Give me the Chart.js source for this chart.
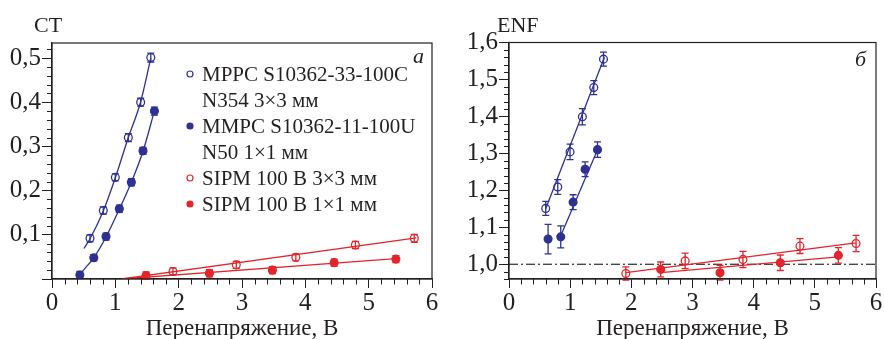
<!DOCTYPE html>
<html><head><meta charset="utf-8">
<script src="https://cdn.jsdelivr.net/npm/chart.js@4.4.1/dist/chart.umd.min.js"></script>
<style>
html,body{margin:0;padding:0;background:#fff;}
#wrap{position:relative;width:884px;height:339px;overflow:hidden;}
.pane{position:absolute;top:0;width:442px;height:339px;}
</style></head><body>
<div id="wrap">
<div class="pane" style="left:0"><canvas id="cA" width="442" height="339"></canvas></div>
<div class="pane" style="left:442px"><canvas id="cB" width="442" height="339"></canvas></div>
</div>
<script>
// ---------- data ----------
const seriesNames = [
  ['MPPC S10362-33-100C', 'N354 3×3 мм'],
  ['MMPC S10362-11-100U', 'N50 1×1 мм'],
  ['SIPM 100 В 3×3 мм'],
  ['SIPM 100 В 1×1 мм']
];
const xTitle = 'Перенапряжение, В';
const xTickValues = [0, 1, 2, 3, 4, 5, 6];
const xTickLabels = ['0', '1', '2', '3', '4', '5', '6'];
const ctTickValues = [0, 0.1, 0.2, 0.3, 0.4, 0.5];
const ctTickLabels = ['', '0,1', '0,2', '0,3', '0,4', '0,5'];
const enfTickValues = [1.0, 1.1, 1.2, 1.3, 1.4, 1.5, 1.6];
const enfTickLabels = ['1,0', '1,1', '1,2', '1,3', '1,4', '1,5', '1,6'];

// panel а : CT
const mppc33X = [0.60, 0.81, 1.00, 1.205, 1.40, 1.56];
const mppc33CT = [0.092, 0.155, 0.230, 0.320, 0.400, 0.501];
const mppc33CTErr = [0.008, 0.008, 0.008, 0.009, 0.009, 0.010];
const mppc11X = [0.44, 0.66, 0.853, 1.063, 1.253, 1.437, 1.617];
const mppc11CT = [0.009, 0.048, 0.096, 0.159, 0.219, 0.290, 0.380];
const mppc11CTErr = [0.008, 0.007, 0.008, 0.008, 0.008, 0.008, 0.009];
const sipm3X = [1.91, 2.91, 3.85, 4.79, 5.72];
const sipm3CT = [0.017, 0.032, 0.049, 0.077, 0.092];
const sipm3CTErr = [0.008, 0.008, 0.008, 0.008, 0.009];
const sipm1X = [1.485, 2.485, 3.48, 4.455, 5.43];
const sipm1CT = [0.008, 0.013, 0.020, 0.037, 0.045];
const sipm1CTErr = [0.008, 0.008, 0.008, 0.008, 0.008];
// fitted curves
const mppc33CTFitX = [0.505, 0.60, 0.81, 1.00, 1.20, 1.40, 1.56];
const mppc33CTFitY = [0.069, 0.091, 0.154, 0.229, 0.318, 0.401, 0.500];
const mppc11CTFitX = [0.415, 0.44, 0.66, 0.853, 1.063, 1.253, 1.437, 1.62];
const mppc11CTFitY = [0.002, 0.009, 0.048, 0.095, 0.158, 0.219, 0.289, 0.382];
const sipm3CTFitX = [1.10, 5.75];
const sipm3CTFitY = [0.000, 0.093];
const sipm1CTFitX = [1.10, 5.43];
const sipm1CTFitY = [0.000, 0.046];

// panel б : ENF
const mppc33EX = [0.60, 0.797, 0.998, 1.20, 1.386, 1.545];
const mppc33ENF = [1.151, 1.209, 1.304, 1.399, 1.478, 1.555];
const mppc33ENFErr = [0.019, 0.020, 0.021, 0.022, 0.019, 0.019];
const mppc11EX = [0.639, 0.846, 1.048, 1.244, 1.447];
const mppc11ENF = [1.068, 1.074, 1.168, 1.257, 1.310];
const mppc11ENFErr = [0.040, 0.030, 0.020, 0.020, 0.021];
const sipm3EX = [1.91, 2.88, 3.825, 4.757, 5.674];
const sipm3ENF = [0.975, 1.009, 1.013, 1.049, 1.056];
const sipm3ENFErr = [0.018, 0.021, 0.022, 0.020, 0.022];
const sipm1EX = [2.48, 3.45, 4.435, 5.385];
const sipm1ENF = [0.986, 0.977, 1.004, 1.024];
const sipm1ENFErr = [0.020, 0.020, 0.021, 0.021];
const mppc33ENFFitX = [0.60, 1.56];
const mppc33ENFFitY = [1.150, 1.560];
const mppc11ENFFitX = [0.846, 1.447];
const mppc11ENFFitY = [1.077, 1.310];
const sipm3ENFFitX = [1.91, 5.67];
const sipm3ENFFitY = [0.977, 1.058];
const sipm1ENFFitX = [2.48, 5.385];
const sipm1ENFFitY = [0.977, 1.020];
const enfRefLevel = 1.0;

// ---------- styling / helpers ----------
const BLUE = '#2e3192';
const RED = '#e4242b';
const INK = '#231f20';
const FONT = "'Liberation Serif', 'Times New Roman', serif";

const pts = (xs, ys) => xs.map((x, i) => ({x: x, y: ys[i]}));

function markers(label, xs, ys, errs, color, filled, legend) {
  return {
    type: 'scatter', label: label, data: pts(xs, ys), errors: errs, inLegend: legend,
    showLine: false, pointStyle: 'circle', pointRadius: 3.9, pointHoverRadius: 3.9,
    borderWidth: 1.3, borderColor: color,
    backgroundColor: filled ? color : 'rgba(255,255,255,0)', order: 1
  };
}
function fit(xs, ys, color, curved) {
  return {
    type: 'line', label: '', data: pts(xs, ys), showLine: true, pointRadius: 0,
    borderColor: color, borderWidth: 1.3, fill: false,
    cubicInterpolationMode: curved ? 'monotone' : 'default', tension: 0, order: 2
  };
}

const deco = {
  id: 'deco',
  afterDatasetsDraw(chart) {
    const ctx = chart.ctx;
    const xs = chart.scales.x, ys = chart.scales.y;
    ctx.save();
    // error bars
    chart.data.datasets.forEach((ds) => {
      if (!ds.errors) return;
      ctx.strokeStyle = ds.borderColor; ctx.lineWidth = 1.3;
      ds.data.forEach((p, i) => {
        const e = ds.errors[i];
        const px = xs.getPixelForValue(p.x);
        const y1 = ys.getPixelForValue(p.y - e), y2 = ys.getPixelForValue(p.y + e);
        ctx.beginPath();
        ctx.moveTo(px, y1); ctx.lineTo(px, y2);
        ctx.moveTo(px - 3.5, y1); ctx.lineTo(px + 3.5, y1);
        ctx.moveTo(px - 3.5, y2); ctx.lineTo(px + 3.5, y2);
        ctx.stroke();
      });
    });
    ctx.restore();
  },
  afterDraw(chart) {
    const ctx = chart.ctx, o = chart.options.plugins.deco;
    const xs = chart.scales.x, ys = chart.scales.y, a = chart.chartArea;
    ctx.save();
    // frame
    ctx.strokeStyle = INK; ctx.lineWidth = 1.2;
    ctx.strokeRect(a.left, a.top, a.right - a.left, a.bottom - a.top);
    // minor ticks
    ctx.lineWidth = 1; ctx.beginPath();
    for (let k = Math.ceil(xs.min / 0.2 - 1e-6); k <= Math.floor(xs.max / 0.2 + 1e-6); k++) {
      if (k % 5 === 0) continue;
      const px = Math.round(xs.getPixelForValue(k * 0.2)) + 0.5;
      ctx.moveTo(px, a.bottom); ctx.lineTo(px, a.bottom + 5.5);
    }
    for (let k = Math.ceil(ys.min / 0.02 - 1e-6); k <= Math.floor(ys.max / 0.02 + 1e-6); k++) {
      if (k % 5 === 0) continue;
      const py = Math.round(ys.getPixelForValue(k * 0.02)) + 0.5;
      ctx.moveTo(a.left - 5, py); ctx.lineTo(a.left, py);
    }
    ctx.stroke();
    // axis name and panel letter
    ctx.fillStyle = INK; ctx.textBaseline = 'alphabetic'; ctx.textAlign = 'left';
    ctx.font = '22px ' + FONT;
    ctx.fillText(o.yName, o.yNameX, o.yNameY);
    ctx.font = 'italic 22px ' + FONT;
    ctx.fillText(o.letter, o.letterX, o.letterY);
    // legend
    if (o.legend) {
      let line = 0;
      ctx.font = '21px ' + FONT;
      chart.data.datasets.forEach((ds) => {
        if (!ds.inLegend) return;
        const base = o.legendY + line * o.legendStep;
        ctx.beginPath();
        ctx.arc(o.legendX, base - 7, 3, 0, Math.PI * 2);
        ctx.lineWidth = 1.2; ctx.strokeStyle = ds.borderColor;
        if (ds.backgroundColor === ds.borderColor) { ctx.fillStyle = ds.borderColor; ctx.fill(); }
        ctx.stroke();
        ctx.fillStyle = INK;
        ds.label.forEach((t) => {
          ctx.fillText(t, o.legendX + 12, o.legendY + line * o.legendStep);
          line++;
        });
      });
    }
    ctx.restore();
  }
};

function makeChart(id, datasets, yMin, yMax, yVals, yLabels, yWidth, padRight, padTop, decoOpts) {
  return new Chart(document.getElementById(id), {
    type: 'scatter',
    data: {datasets: datasets},
    options: {
      responsive: false, animation: false, devicePixelRatio: 1,
      layout: {padding: {left: 0, right: padRight, top: padTop, bottom: 0}},
      plugins: {legend: {display: false}, tooltip: {enabled: false}, deco: decoOpts},
      scales: {
        x: {
          type: 'linear', min: 0, max: 6,
          afterBuildTicks: (s) => { s.ticks = xTickValues.map((v) => ({value: v})); },
          afterFit: (s) => { s.height = 60; },
          ticks: {callback: (v, i) => xTickLabels[i], font: {family: FONT, size: 25}, color: INK,
                  padding: 0, maxRotation: 0, autoSkip: false},
          grid: {drawOnChartArea: false, drawTicks: true, tickLength: 9, color: INK, lineWidth: 1},
          border: {display: true, color: INK, width: 1.2},
          title: {display: true, text: xTitle, color: INK, padding: 0,
                  font: {family: FONT, size: 23, lineHeight: 0.9}}
        },
        y: {
          type: 'linear', min: yMin, max: yMax,
          afterBuildTicks: (s) => { s.ticks = yVals.map((v) => ({value: v})); },
          afterFit: (s) => { s.width = yWidth; },
          ticks: {callback: (v, i) => yLabels[i], font: {family: FONT, size: 25}, color: INK,
                  padding: 1, autoSkip: false},
          grid: {drawOnChartArea: false, drawTicks: true, tickLength: 10, color: INK, lineWidth: 1},
          border: {display: true, color: INK, width: 1.2}
        }
      }
    },
    plugins: [deco]
  });
}

makeChart('cA', [
  fit(mppc33CTFitX, mppc33CTFitY, BLUE, true),
  fit(mppc11CTFitX, mppc11CTFitY, BLUE, true),
  fit(sipm3CTFitX, sipm3CTFitY, RED, false),
  fit(sipm1CTFitX, sipm1CTFitY, RED, false),
  markers(seriesNames[0], mppc33X, mppc33CT, mppc33CTErr, BLUE, false, true),
  markers(seriesNames[1], mppc11X, mppc11CT, mppc11CTErr, BLUE, true, true),
  markers(seriesNames[2], sipm3X, sipm3CT, sipm3CTErr, RED, false, true),
  markers(seriesNames[3], sipm1X, sipm1CT, sipm1CTErr, RED, true, true)
], 0, 0.534, ctTickValues, ctTickLabels, 52, 10, 43,
  {yName: 'CT', yNameX: 34, yNameY: 32, letter: 'а', letterX: 413, letterY: 63,
   legend: true, legendX: 190, legendY: 81, legendStep: 26});

makeChart('cB', [
  {type: 'line', label: '', data: pts([0, 6], [enfRefLevel, enfRefLevel]), pointRadius: 0,
   borderColor: '#000', borderWidth: 1, borderDash: [9, 3, 2, 3], fill: false, order: 3},
  fit(mppc33ENFFitX, mppc33ENFFitY, BLUE, false),
  fit(mppc11ENFFitX, mppc11ENFFitY, BLUE, false),
  fit(sipm3ENFFitX, sipm3ENFFitY, RED, false),
  fit(sipm1ENFFitX, sipm1ENFFitY, RED, false),
  markers(seriesNames[0], mppc33EX, mppc33ENF, mppc33ENFErr, BLUE, false, false),
  markers(seriesNames[1], mppc11EX, mppc11ENF, mppc11ENFErr, BLUE, true, false),
  markers(seriesNames[2], sipm3EX, sipm3ENF, sipm3ENFErr, RED, false, false),
  markers(seriesNames[3], sipm1EX, sipm1ENF, sipm1ENFErr, RED, true, false)
], 0.96, 1.6, enfTickValues, enfTickLabels, 67, 8, 42.5,
  {yName: 'ENF', yNameX: 55, yNameY: 32, letter: 'б', letterX: 413, letterY: 66,
   legend: false});
</script>
</body></html>
